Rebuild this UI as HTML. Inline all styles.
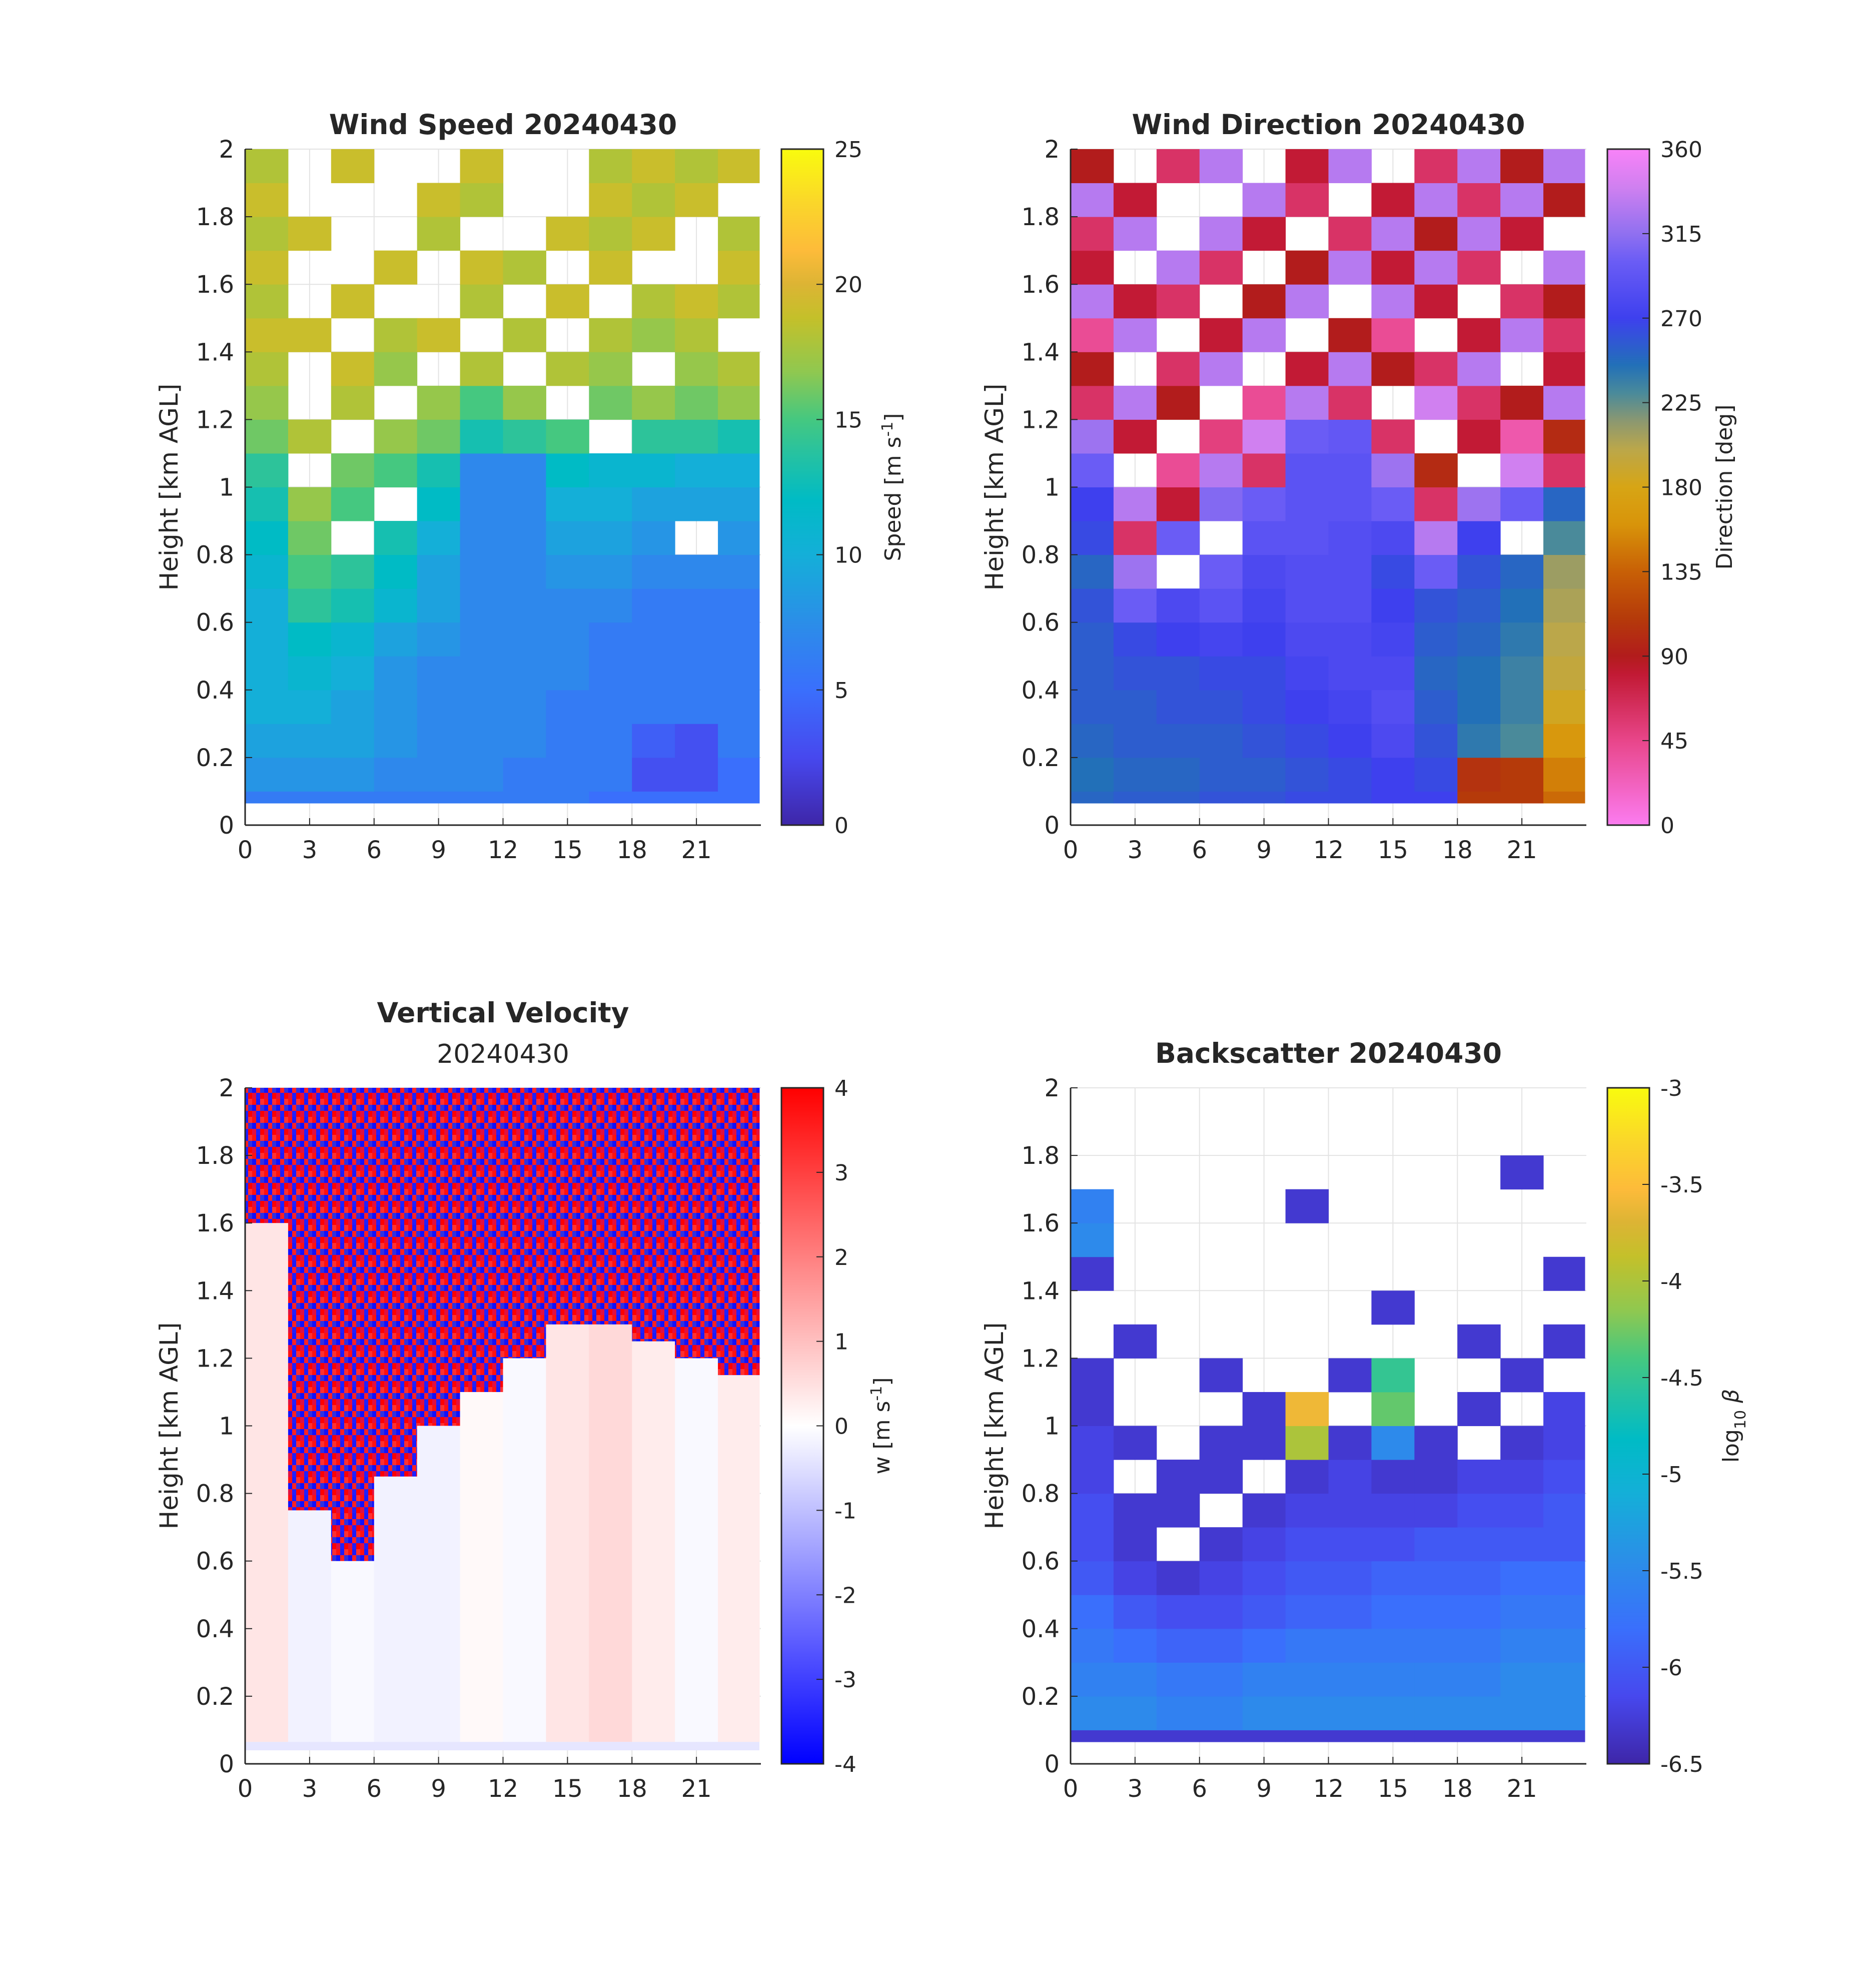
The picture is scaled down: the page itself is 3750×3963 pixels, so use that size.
<!DOCTYPE html>
<html><head><meta charset="utf-8"><style>
html,body{margin:0;padding:0;background:#fff;}
svg text{font-family:"DejaVu Sans","Liberation Sans",sans-serif;fill:#262626;}
</style></head><body>
<svg id="fig" xmlns="http://www.w3.org/2000/svg" width="3750" height="3958" viewBox="0 0 3750 3958">
<defs>
<pattern id="turb" width="24" height="36" patternUnits="userSpaceOnUse">
<rect x="0" y="0" width="8" height="12" fill="#ff1010"/><rect x="8" y="0" width="8" height="12" fill="#1a1aff"/><rect x="16" y="0" width="8" height="12" fill="#ff3030"/>
<rect x="0" y="12" width="8" height="12" fill="#1010ff"/><rect x="8" y="12" width="8" height="12" fill="#ff2020"/><rect x="16" y="12" width="8" height="12" fill="#3030e0"/>
<rect x="0" y="24" width="8" height="12" fill="#e01040"/><rect x="8" y="24" width="8" height="12" fill="#2020ff"/><rect x="16" y="24" width="8" height="12" fill="#ff0000"/>
</pattern>
</defs>
</svg>
<script>
// ---- data (12 columns of 2 h, 20 rows of 0.1 km; row 0 = 0.065-0.1 km) ----
const hourCols = [0,2,4,6,8,10,12,14,16,18,20,22];
const xTicks = [0,3,6,9,12,15,18,21];
const yTicks = [0,0.2,0.4,0.6,0.8,1,1.2,1.4,1.6,1.8,2];
const yTickLabels = ["0","0.2","0.4","0.6","0.8","1","1.2","1.4","1.6","1.8","2"];
const speedRows = [
[6,6,6,6,6,6,6,6,5,5,5,5],
[8,8,8,7,7,7,6,6,6,3,3,5],
[9,9,9,8,7,7,7,6,6,4,3,6],
[10,10,9,8,7,7,7,6,6,6,6,6],
[10,11,10,8,7,7,7,7,6,6,6,6],
[10,12,11,9,8,7,7,7,6,6,6,6],
[10,14,13,11,9,7,7,7,7,6,6,6],
[11,15,14,12,9,7,7,8,8,7,7,7],
[12,16,null,13,10,7,7,9,9,8,null,8],
[13,17,15,null,12,7,7,10,10,9,9,9],
[14,null,16,15,13,7,7,12,11,11,10,10],
[16,18,null,17,16,13,14,15,null,14,14,13],
[17,null,18,null,17,15,17,null,16,17,16,17],
[18,null,19,17,null,18,null,18,17,null,17,18],
[19,19,null,18,19,null,18,null,18,17,18,null],
[18,null,19,null,null,18,null,19,null,18,19,18],
[19,null,null,19,null,19,18,null,19,null,null,19],
[18,19,null,null,18,null,null,19,18,19,null,18],
[19,null,null,null,19,18,null,null,19,18,19,null],
[18,null,19,null,null,19,null,null,18,19,18,19]];
const dirRows = [
[250,255,255,260,260,265,265,270,270,110,110,140],
[245,250,250,255,255,260,265,270,265,105,110,150],
[250,255,255,255,260,265,270,280,260,240,230,165],
[255,255,260,260,265,270,275,285,255,245,235,185],
[255,260,260,265,265,275,280,280,250,245,235,195],
[255,265,270,275,270,280,280,275,255,250,240,200],
[260,300,280,290,275,285,285,270,260,255,245,205],
[250,320,null,300,280,285,285,265,300,260,250,210],
[265,60,300,null,290,290,285,280,330,270,null,230],
[270,330,80,310,300,290,290,300,60,320,300,250],
[300,null,40,330,60,290,290,320,100,null,340,60],
[320,80,null,50,340,300,295,60,null,80,30,100],
[60,330,90,null,40,330,60,null,340,60,90,330],
[90,null,60,330,null,80,330,90,60,330,null,80],
[40,330,null,80,330,null,90,40,null,80,330,60],
[330,80,60,null,90,330,null,330,80,null,60,90],
[80,null,330,60,null,90,330,80,330,60,null,330],
[60,330,null,330,80,null,60,330,90,330,80,null],
[330,80,null,null,330,60,null,80,330,60,330,90],
[90,null,60,330,null,80,330,null,60,330,90,330]];
const bsRows = [
[-6.3,-6.3,-6.3,-6.3,-6.3,-6.3,-6.3,-6.3,-6.3,-6.3,-6.3,-6.3],
[-5.5,-5.5,-5.6,-5.6,-5.5,-5.5,-5.5,-5.5,-5.5,-5.5,-5.5,-5.5],
[-5.6,-5.6,-5.7,-5.7,-5.6,-5.6,-5.6,-5.6,-5.6,-5.6,-5.5,-5.5],
[-5.7,-5.8,-5.9,-5.9,-5.8,-5.7,-5.7,-5.7,-5.7,-5.7,-5.6,-5.6],
[-5.8,-6.0,-6.1,-6.1,-6.0,-5.9,-5.9,-5.8,-5.8,-5.8,-5.7,-5.7],
[-6.0,-6.2,-6.3,-6.2,-6.1,-6.0,-6.0,-5.9,-5.9,-5.9,-5.8,-5.8],
[-6.1,-6.3,null,-6.3,-6.2,-6.1,-6.1,-6.1,-6.0,-6.0,-6.0,-6.0],
[-6.1,-6.3,-6.3,null,-6.3,-6.2,-6.2,-6.2,-6.2,-6.1,-6.1,-6.0],
[-6.2,null,-6.3,-6.3,null,-6.3,-6.2,-6.3,-6.3,-6.2,-6.2,-6.1],
[-6.2,-6.3,null,-6.3,-6.3,-4.0,-6.3,-5.5,-6.3,null,-6.3,-6.2],
[-6.3,null,null,null,-6.3,-3.6,null,-4.3,null,-6.3,null,-6.2],
[-6.3,null,null,-6.3,null,null,-6.3,-4.5,null,null,-6.3,null],
[null,-6.3,null,null,null,null,null,null,null,-6.3,null,-6.3],
[null,null,null,null,null,null,null,-6.3,null,null,null,null],
[-6.3,null,null,null,null,null,null,null,null,null,null,-6.3],
[-5.5,null,null,null,null,null,null,null,null,null,null,null],
[-5.6,null,null,null,null,-6.3,null,null,null,null,null,null],
[null,null,null,null,null,null,null,null,null,null,-6.3,null],
[null,null,null,null,null,null,null,null,null,null,null,null],
[null,null,null,null,null,null,null,null,null,null,null,null]];
const wBlTop = [1.6,0.75,0.6,0.85,1.0,1.1,1.2,1.3,1.3,1.25,1.2,1.15];
const wBelow = [0.4,-0.2,-0.1,-0.2,-0.2,0.1,-0.1,0.4,0.6,0.3,-0.1,0.3];
const wBottomStrip = -0.4;

// ---- colormaps ----
const parula = [[0,'#3e26a8'],[0.1,'#4748ee'],[0.2,'#3a6ffc'],[0.3,'#2b8ee8'],[0.4,'#14afd8'],[0.48,'#00bbc5'],[0.55,'#27c2a0'],[0.6,'#45c880'],[0.67,'#8fc850'],[0.75,'#c4c02a'],[0.8,'#dcb434'],[0.85,'#fdbb3a'],[0.92,'#fad62a'],[1,'#f9fb0e']];
const dirMap = [[0,'#fb7cf0'],[45/360,'#e8468a'],[80/360,'#c21a35'],[90/360,'#b21c1c'],[110/360,'#b53a0a'],[135/360,'#c86006'],[160/360,'#d8940a'],[180/360,'#d7a515'],[200/360,'#bba74a'],[215/360,'#8c9870'],[230/360,'#4a8a9a'],[245/360,'#2270b8'],[270/360,'#3e40ee'],[300/360,'#6a5cf5'],[315/360,'#9070f0'],[340/360,'#d080f0'],[1,'#f882f8']];
const bwr = [[0,'#0000ff'],[0.5,'#ffffff'],[1,'#ff0000']];
function hex(c){return [parseInt(c.slice(1,3),16),parseInt(c.slice(3,5),16),parseInt(c.slice(5,7),16)];}
function cmap(stops,t){t=Math.max(0,Math.min(1,t));for(let i=1;i<stops.length;i++){if(t<=stops[i][0]){const a=stops[i-1],b=stops[i];const f=(t-a[0])/(b[0]-a[0]);const ca=hex(a[1]),cb=hex(b[1]);return 'rgb('+ca.map((v,k)=>Math.round(v+(cb[k]-v)*f)).join(',')+')';}}return stops[stops.length-1][1];}

const svg=document.getElementById('fig');
const NS='http://www.w3.org/2000/svg';
function el(tag,attrs,parent){const e=document.createElementNS(NS,tag);for(const k in attrs)e.setAttribute(k,attrs[k]);(parent||svg).appendChild(e);return e;}
function txt(s,attrs,parent){const e=el('text',attrs,parent);e.textContent=s;return e;}

const panels=[
 {key:'speed',x0:490,x1:1521,y0:298,y1:1649,cbx:1562},
 {key:'dir',x0:2140,x1:3171,y0:298,y1:1649,cbx:3213},
 {key:'w',x0:490,x1:1521,y0:2174,y1:3525,cbx:1562},
 {key:'bs',x0:2140,x1:3171,y0:2174,y1:3525,cbx:3213}];
function xs(p,h){return p.x0+h/24*(p.x1-p.x0);}
function ys(p,k){return p.y1-k/2*(p.y1-p.y0);}
function rowBot(i){return i===0?0.065:i*0.1;}

function drawAxes(p,g){
 yTicks.forEach(v=>{const l=el('line',{x1:p.x0,x2:p.x1,y1:ys(p,v),y2:ys(p,v),stroke:'#e3e3e3','stroke-width':2},g);
  
  });
 xTicks.forEach(v=>{const l=el('line',{x1:xs(p,v),x2:xs(p,v),y1:p.y0,y2:p.y1,stroke:'#e3e3e3','stroke-width':2},g);
  
  });
}
function drawFrame(p,g){
 el('line',{x1:p.x0,x2:p.x0,y1:p.y0,y2:p.y1,stroke:'#262626','stroke-width':3},g);
 el('line',{x1:p.x0,x2:p.x1,y1:p.y1,y2:p.y1,stroke:'#262626','stroke-width':3},g);
 yTicks.forEach((v,i)=>{el('line',{x1:p.x0,x2:p.x0+14,y1:ys(p,v),y2:ys(p,v),stroke:'#262626','stroke-width':2},g);
  const t=txt(yTickLabels[i],{x:p.x0-22,y:ys(p,v)+17,'font-size':48,'text-anchor':'end'},g);
  
  });
 xTicks.forEach(v=>{el('line',{x1:xs(p,v),x2:xs(p,v),y1:p.y1,y2:p.y1-14,stroke:'#262626','stroke-width':2},g);
  const t=txt(String(v),{x:xs(p,v),y:p.y1+66,'font-size':48,'text-anchor':'middle'},g);
  
  });
 const yl=txt('Height [km AGL]',{x:0,y:0,'font-size':50,'text-anchor':'middle',transform:`translate(${p.x0-135},${(p.y0+p.y1)/2}) rotate(-90)`},g);
 
 
}
function drawGrid(p,g,rows,stops,vmin,vmax,name){
 rows.forEach((row,i)=>{row.forEach((v,j)=>{if(v===null)return;
  const h0=hourCols[j],h1=h0+2;const x=xs(p,h0),xe=Math.min(xs(p,h1),p.x1-3);
  const yb=ys(p,rowBot(i)),yt=ys(p,(i+1)*0.1);
  const r=el('rect',{x:x,y:yt,width:xe-x+0.5,height:yb-yt+0.5,fill:cmap(stops,(v-vmin)/(vmax-vmin))},g);
  
  });});
}
function drawColorbar(p,g,stops,ticks,labels,vmin,vmax,id){
 const gr=el('linearGradient',{id:id,x1:0,y1:1,x2:0,y2:0},svg.querySelector('defs'));
 stops.forEach(s=>el('stop',{offset:s[0],'stop-color':s[1]},gr));
 const r=el('rect',{x:p.cbx,y:p.y0,width:84,height:p.y1-p.y0,fill:`url(#${id})`,stroke:'#262626','stroke-width':3},g);
 
 
 ticks.forEach((v,i)=>{const y=p.y1-(v-vmin)/(vmax-vmin)*(p.y1-p.y0);
  if(i>0&&i<ticks.length-1)el('line',{x1:p.cbx+84,x2:p.cbx+70,y1:y,y2:y,stroke:'#262626','stroke-width':2},g);
  const t=txt(labels[i],{x:p.cbx+106,y:y+16,'font-size':44},g);
  
  });
 return r;
}

// Panel 1: wind speed
{const p=panels[0];const g=el('g',{});
 drawAxes(p,g);drawGrid(p,g,speedRows,parula,0,25,'speed-cell');drawFrame(p,g);
 const t=txt('Wind Speed 20240430',{x:(p.x0+p.x1)/2,y:268,'font-size':55,'font-weight':'bold','text-anchor':'middle'},g);
 
 drawColorbar(p,g,parula,[0,5,10,15,20,25],['0','5','10','15','20','25'],0,25,'cbSpeed');
 const l=txt('Speed [m s',{x:0,y:0,'font-size':44,'text-anchor':'middle',transform:`translate(1800,${(p.y0+p.y1)/2}) rotate(-90)`},g);
 const s1=el('tspan',{dy:-16,'font-size':30},l);s1.textContent='-1';const s2=el('tspan',{dy:16},l);s2.textContent=']';
 }

// Panel 2: wind direction
{const p=panels[1];const g=el('g',{});
 drawAxes(p,g);drawGrid(p,g,dirRows,dirMap,0,360,'direction-cell');drawFrame(p,g);
 const t=txt('Wind Direction 20240430',{x:(p.x0+p.x1)/2,y:268,'font-size':55,'font-weight':'bold','text-anchor':'middle'},g);
 
 drawColorbar(p,g,dirMap,[0,45,90,135,180,225,270,315,360],['0','45','90','135','180','225','270','315','360'],0,360,'cbDir');
 const l=txt('Direction [deg]',{x:0,y:0,'font-size':44,'text-anchor':'middle',transform:`translate(3462,${(p.y0+p.y1)/2}) rotate(-90)`},g);
 }

// Panel 3: vertical velocity
{const p=panels[2];const g=el('g',{});
 drawAxes(p,g);
 const sb=el('rect',{x:p.x0,y:ys(p,0.065),width:p.x1-3-p.x0,height:ys(p,0.04)-ys(p,0.065),fill:cmap(bwr,(wBottomStrip+4)/8)},g);
 
 wBlTop.forEach((top,j)=>{const h0=hourCols[j];const x=xs(p,h0),xe=Math.min(xs(p,h0+2),p.x1-3);
  const lo=el('rect',{x:x,y:ys(p,top),width:xe-x+0.5,height:ys(p,0.065)-ys(p,top),fill:cmap(bwr,(wBelow[j]+4)/8)},g);
  
  const hi=el('rect',{x:x,y:ys(p,2),width:xe-x+0.5,height:ys(p,top)-ys(p,2),fill:'url(#turb)'},g);
  });
 drawFrame(p,g);
 const t=txt('Vertical Velocity',{x:(p.x0+p.x1)/2,y:2043,'font-size':55,'font-weight':'bold','text-anchor':'middle'},g);
 
 const t2=txt('20240430',{x:(p.x0+p.x1)/2,y:2124,'font-size':52,'text-anchor':'middle'},g);
 
 drawColorbar(p,g,bwr,[-4,-3,-2,-1,0,1,2,3,4],['-4','-3','-2','-1','0','1','2','3','4'],-4,4,'cbW');
 const l=txt('w [m s',{x:0,y:0,'font-size':44,'text-anchor':'middle',transform:`translate(1778,${(p.y0+p.y1)/2}) rotate(-90)`},g);
 const s1=el('tspan',{dy:-16,'font-size':30},l);s1.textContent='-1';const s2=el('tspan',{dy:16},l);s2.textContent=']';
 }

// Panel 4: backscatter
{const p=panels[3];const g=el('g',{});
 drawAxes(p,g);drawGrid(p,g,bsRows,parula,-6.5,-3,'backscatter-cell');drawFrame(p,g);
 const t=txt('Backscatter 20240430',{x:(p.x0+p.x1)/2,y:2124,'font-size':55,'font-weight':'bold','text-anchor':'middle'},g);
 
 drawColorbar(p,g,parula,[-6.5,-6,-5.5,-5,-4.5,-4,-3.5,-3],['-6.5','-6','-5.5','-5','-4.5','-4','-3.5','-3'],-6.5,-3,'cbBs');
 const l=txt('log',{x:0,y:0,'font-size':44,'text-anchor':'middle',transform:`translate(3475,${(p.y0+p.y1)/2}) rotate(-90)`},g);
 const s1=el('tspan',{dy:14,'font-size':30},l);s1.textContent='10';const s2=el('tspan',{dy:-14,'font-style':'italic'},l);s2.textContent=' β';
 }
</script>
</body></html>
